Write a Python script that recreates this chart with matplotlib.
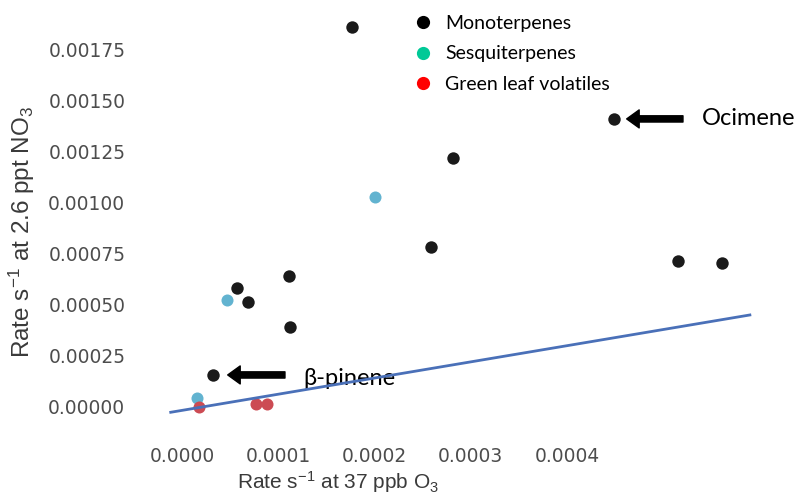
import matplotlib.pyplot as plt
from matplotlib.lines import Line2D
from matplotlib.ticker import FormatStrFormatter

plt.rcParams['mathtext.fontset'] = 'custom'
plt.rcParams['mathtext.rm'] = 'Liberation Sans'
plt.rcParams['mathtext.it'] = 'Liberation Sans'
plt.rcParams['mathtext.default'] = 'regular'

# loss rates (s-1): x with 37 ppb O3, y with 2.6 ppt NO3
mono_o3 = [0.000177, 0.000449, 0.000282, 0.000259, 0.000515, 0.000561,
           0.000111, 0.0000575, 0.0000689, 0.000112, 0.0000325]
mono_no3 = [0.001864, 0.001412, 0.001221, 0.000783, 0.000717, 0.000704,
            0.000641, 0.000582, 0.000513, 0.000392, 0.000157]
sesq_o3 = [0.0002005, 0.0000468, 0.0000156]
sesq_no3 = [0.001028, 0.000525, 0.0000426]
glv_o3 = [0.0000174, 0.0000769, 0.000088]
glv_no3 = [0.0, 0.0000132, 0.0000132]
line_o3 = [-0.0000117, 0.00059]
line_no3 = [-0.000026, 0.000451]

x_ticks = [0.0, 0.0001, 0.0002, 0.0003, 0.0004]
y_ticks = [0.0, 0.00025, 0.0005, 0.00075, 0.001, 0.00125, 0.0015, 0.00175]

legend_labels = ['Monoterpenes', 'Sesquiterpenes', 'Green leaf volatiles']
legend_colors = ['#000000', '#00c997', '#ff0000']

fig = plt.figure(figsize=(7.97, 4.95), dpi=100)
ax = fig.add_axes([0.1921, 0.1531, 0.785, 0.8078])

ax.scatter(mono_o3, mono_no3, s=80, color='#1a1a1a', zorder=3, linewidths=0)
ax.scatter(sesq_o3, sesq_no3, s=75, color='#62b3d0', zorder=3, linewidths=0)
ax.scatter(glv_o3, glv_no3, s=75, color='#cc4b53', zorder=4, linewidths=0)
ax.plot(line_o3, line_no3, color='#4a70b8', lw=2, zorder=5)

ax.set_xlim(-0.00003, 0.00062)
ax.set_ylim(-0.00006, 0.0019)
ax.set_xticks(x_ticks)
ax.set_yticks(y_ticks)
ax.xaxis.set_major_formatter(FormatStrFormatter('%.4f'))
ax.yaxis.set_major_formatter(FormatStrFormatter('%.5f'))
ax.tick_params(length=0, labelsize=13.4, labelcolor='#4d4d4d')
ax.tick_params(axis='y', pad=20)
ax.tick_params(axis='x', pad=20)
for sp in ax.spines.values():
    sp.set_visible(False)

ax.set_xlabel('Rate s$^{-1}$ at 37 ppb O$_3$', fontsize=15, color='#3a3a3a',
              va='top', family='Liberation Sans')
ax.set_ylabel('Rate s$^{-1}$ at 2.6 ppt NO$_3$', fontsize=17.5, color='#3a3a3a',
              family='Liberation Sans')
ax.xaxis.set_label_coords(0.296, -0.126)
ax.yaxis.set_label_coords(-0.186, 0.468)

# callouts
arrow = dict(arrowstyle='simple,head_length=0.9,head_width=1.3,tail_width=0.45',
             color='black', shrinkA=0, shrinkB=0)
ax.annotate('', xy=(0.000462, mono_no3[1]), xytext=(0.0005205, mono_no3[1]),
            arrowprops=arrow)
ax.text(0.00054, mono_no3[1], 'Ocimene', fontsize=17, family='Lato',
        va='center', ha='left')
ax.annotate('', xy=(0.0000475, mono_no3[10]), xytext=(0.000107, mono_no3[10]),
            arrowprops=arrow)
ax.text(0.0001257, mono_no3[10] - 0.000015, 'β-pinene', fontsize=17, family='Lato',
        va='center', ha='left')

handles = [Line2D([], [], ls='none', marker='o', markersize=9.5,
                  markerfacecolor=c, markeredgewidth=0) for c in legend_colors]
ax.legend(handles, legend_labels, loc='upper left', bbox_to_anchor=(0.4942, 0.989),
          bbox_transform=fig.transFigure, frameon=False,
          prop={'family': 'Lato', 'size': 14}, labelspacing=0.68,
          handletextpad=0.15, borderpad=0)

fig.savefig('out.png', dpi=100)
